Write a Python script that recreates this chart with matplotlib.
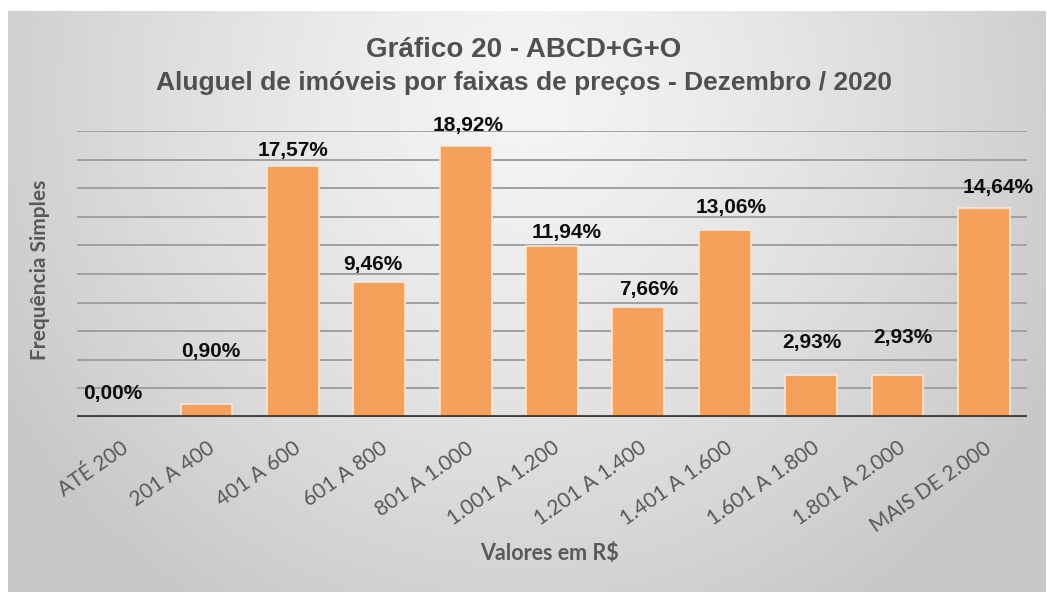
import numpy as np
import matplotlib.pyplot as plt

categorias = ["ATÉ 200", "201 A 400", "401 A 600", "601 A 800", "801 A 1.000",
              "1.001 A 1.200", "1.201 A 1.400", "1.401 A 1.600", "1.601 A 1.800",
              "1.801 A 2.000", "MAIS DE 2.000"]
percentuais = [0.00, 0.90, 17.57, 9.46, 18.92, 11.94, 7.66, 13.06, 2.93, 2.93, 14.64]

# deslocamento dos rotulos (pixels) em relacao ao topo da barra, como no original
label_dx = [-7, 4, 0, -6, 2, 15, 10, 6, 1, 5, 14]
label_dy = [23, 53, 15, 17, 21, 14, 18, 23, 33, 38, 20]

W, H = 1047, 597
fig = plt.figure(figsize=(W / 100, H / 100), dpi=100)

# fundo com gradiente radial cinza
bg = fig.add_axes([8 / W, 5 / H, (W - 9) / W, (H - 16) / H])
bg.set_axis_off()
yy, xx = np.mgrid[0:581, 0:1038]
r = np.sqrt(((xx - 515) / 600.0) ** 2 + ((yy - 90) / 600.0) ** 2)
r = np.clip(r, 0, 1)
shade = 0.96 - 0.175 * r ** 1.3
bg.imshow(np.dstack([shade, shade, shade]), aspect="auto", interpolation="bilinear")

ax = fig.add_axes([77 / W, 1 - 417 / H, (1027 - 77) / W, (417 - 131) / H])
ax.patch.set_alpha(0)
x = np.arange(len(categorias))
ax.bar(x, percentuais, width=0.6, color="#F5A05B", edgecolor="#FCE6D4", linewidth=1.2, zorder=2)
ax.axhline(0, color="#404040", lw=2.8, zorder=3)

ax.set_xlim(-0.5, len(categorias) - 0.5)
ax.set_ylim(0, 20)
ax.set_yticks(range(0, 21, 2))
ax.set_yticklabels([])
ax.yaxis.grid(True, color="#a0a0a0", lw=1.4)
ax.set_axisbelow(True)
ax.tick_params(axis="both", length=0)
for s in ax.spines.values():
    s.set_visible(False)

ax.set_xticks(x)
ax.set_xticklabels(categorias, rotation=35, ha="right", va="top", rotation_mode="anchor",
                   fontsize=15, color="#595959", family="Lato")
ax.tick_params(axis="x", pad=15)

for i, v in enumerate(percentuais):
    txt = f"{v:.2f}%".replace(".", ",")
    ax.annotate(txt, xy=(i, v), xytext=(label_dx[i], label_dy[i]), textcoords="offset pixels",
                ha="center", va="center", fontsize=15, fontweight="bold",
                family="Liberation Sans", color="#0d0d0d")

fig.text(0.5, 1 - 50 / H, "Gráfico 20 - ABCD+G+O", ha="center", va="center",
         fontsize=20, fontweight="bold", family="Liberation Sans", color="#505050")
fig.text(0.5, 1 - 83 / H, "Aluguel de imóveis por faixas de preços - Dezembro / 2020",
         ha="center", va="center", fontsize=19, fontweight="bold",
         family="Liberation Sans", color="#505050")
fig.text(550 / W, 1 - 553 / H, "Valores em R$", ha="center", va="center",
         fontsize=15.5, fontweight="bold", family="Lato", color="#595959")
fig.text(40 / W, 1 - 270 / H, "Frequência Simples", ha="center", va="center", rotation=90,
         fontsize=15, fontweight="bold", family="Lato", color="#595959")

fig.savefig("out.png", dpi=100, facecolor="white")
